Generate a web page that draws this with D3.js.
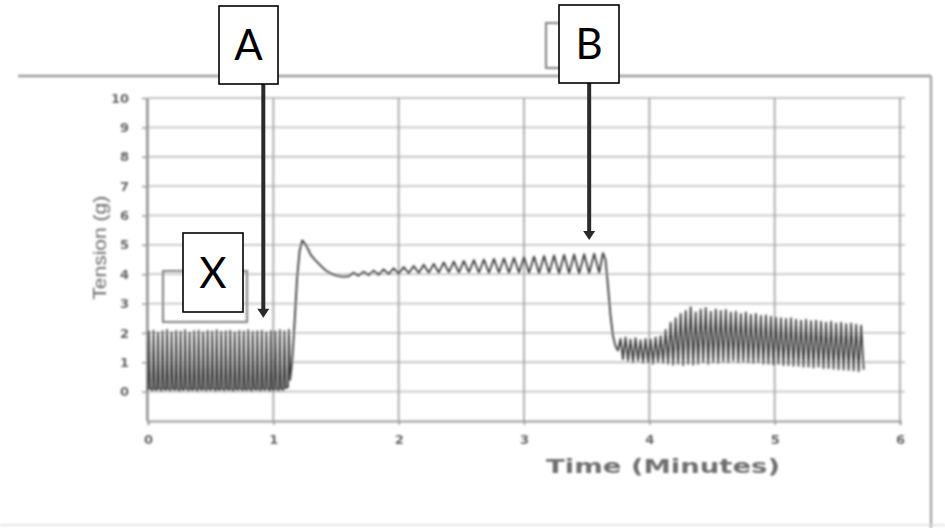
<!DOCTYPE html>
<html><head><meta charset="utf-8">
<script src="https://cdn.jsdelivr.net/npm/d3@7"></script>
<style>html,body{margin:0;padding:0;background:#fff;}svg{display:block;}</style>
</head><body>
<script>
// ---- data ----
const xTicks = [0, 1, 2, 3, 4, 5, 6];
const yTicks = [0, 1, 2, 3, 4, 5, 6, 7, 8, 9, 10];
const xTitle = "Time (Minutes)";
const yTitle = "Tension (g)";

// Phase 1: baseline twitches (0 - 1.15 min)
const time1 = [0.000,0.008,0.018,0.036,0.044,0.054,0.072,0.080,0.090,0.108,0.116,0.126,0.144,0.152,0.162,0.180,0.188,0.198,0.216,0.224,0.234,0.252,0.260,0.270,0.288,0.296,0.306,0.324,0.332,0.342,0.360,0.368,0.378,0.396,0.404,0.414,0.432,0.440,0.450,0.468,0.476,0.486,0.504,0.512,0.522,0.540,0.548,0.558,0.576,0.584,0.594,0.612,0.620,0.630,0.648,0.656,0.666,0.684,0.692,0.702,0.720,0.728,0.738,0.756,0.764,0.774,0.792,0.800,0.810,0.828,0.836,0.846,0.864,0.872,0.882,0.900,0.908,0.918,0.936,0.944,0.954,0.972,0.980,0.990,1.008,1.016,1.026,1.044,1.052,1.062,1.080,1.088,1.098,1.116,1.124,1.134];
const tension1 = [0.05,2.05,0.10,0.04,2.08,0.08,0.05,2.02,0.10,0.03,2.06,0.09,0.05,2.10,0.08,0.04,2.03,0.10,0.05,2.07,0.09,0.03,2.04,0.08,0.05,2.09,0.10,0.04,2.02,0.08,0.05,2.06,0.09,0.03,2.08,0.10,0.05,2.03,0.08,0.04,2.07,0.09,0.05,2.05,0.10,0.03,2.09,0.08,0.05,2.04,0.09,0.04,2.06,0.10,0.05,2.08,0.08,0.03,2.03,0.09,0.05,2.07,0.10,0.04,2.05,0.08,0.05,2.09,0.09,0.03,2.04,0.10,0.05,2.06,0.08,0.04,2.08,0.09,0.05,2.03,0.10,0.03,2.07,0.08,0.05,2.05,0.09,0.04,2.09,0.10,0.05,2.06,0.12,0.15,2.10,0.40];

// Phase 2: after A (1.15 - 3.75 min)
const time2 = [1.15,1.17,1.19,1.21,1.23,1.26,1.30,1.34,1.38,1.42,1.46,1.50,1.55,1.60,1.64,1.68,1.72,1.76,1.80,1.84,1.88,1.92,1.96,2.00,2.04,2.08,2.12,2.16,2.20,2.24,2.28,2.32,2.36,2.40,2.44,2.48,2.52,2.56,2.60,2.64,2.68,2.72,2.76,2.80,2.84,2.88,2.92,2.96,3.00,3.04,3.08,3.12,3.16,3.20,3.24,3.28,3.32,3.36,3.40,3.44,3.48,3.52,3.56,3.60,3.63,3.65,3.67,3.69,3.71,3.73];
const tension2 = [1.0,2.4,3.9,4.8,5.15,5.0,4.65,4.45,4.28,4.12,4.02,3.96,3.92,3.93,4.05,3.95,4.08,3.97,4.12,3.98,4.16,4.00,4.20,4.02,4.24,4.03,4.28,4.04,4.32,4.05,4.35,4.05,4.40,4.06,4.43,4.05,4.45,4.06,4.48,4.05,4.50,4.04,4.52,4.05,4.54,4.04,4.56,4.05,4.58,4.04,4.60,4.03,4.62,4.04,4.64,4.02,4.66,4.03,4.67,4.02,4.68,4.03,4.70,4.05,4.72,4.50,3.60,2.60,1.90,1.55];

// Phase 3: after B (3.75 - 5.71 min)
const time3 = [3.75,3.77,3.79,3.81,3.83,3.85,3.87,3.89,3.91,3.93,3.95,3.97,3.99,4.01,4.03,4.05,4.07,4.09,4.11,4.13,4.15,4.17,4.19,4.21,4.23,4.25,4.27,4.29,4.31,4.33,4.35,4.37,4.39,4.41,4.43,4.45,4.47,4.49,4.51,4.53,4.55,4.57,4.59,4.61,4.63,4.65,4.67,4.69,4.71,4.73,4.75,4.77,4.79,4.81,4.83,4.85,4.87,4.89,4.91,4.93,4.95,4.97,4.99,5.01,5.03,5.05,5.07,5.09,5.11,5.13,5.15,5.17,5.19,5.21,5.23,5.25,5.27,5.29,5.31,5.33,5.35,5.37,5.39,5.41,5.43,5.45,5.47,5.49,5.51,5.53,5.55,5.57,5.59,5.61,5.63,5.65,5.67,5.69,5.71];
const tension3 = [1.40,1.80,1.10,1.85,1.05,1.78,1.00,1.82,1.05,1.75,0.98,1.80,1.00,1.78,0.95,1.85,1.00,1.90,0.98,2.10,0.95,2.35,0.92,2.50,0.95,2.65,0.90,2.75,0.95,2.88,0.92,2.70,0.95,2.80,1.00,2.85,0.95,2.72,1.00,2.80,0.98,2.75,1.02,2.78,1.00,2.70,1.05,2.72,1.00,2.65,1.02,2.70,1.00,2.62,0.98,2.65,1.00,2.58,0.95,2.60,0.95,2.55,0.92,2.52,0.95,2.50,0.90,2.48,0.90,2.50,0.88,2.45,0.88,2.42,0.85,2.45,0.85,2.40,0.82,2.42,0.85,2.38,0.80,2.35,0.80,2.38,0.78,2.32,0.76,2.35,0.75,2.30,0.74,2.32,0.72,2.28,0.70,2.25,0.75];

// annotation labels
const labels = ["A", "B", "X"];

// ---- drawing ----
const W = 945, H = 528;
const svg = d3.select("body").append("svg").attr("width", W).attr("height", H);

const defs = svg.append("defs");
defs.append("filter").attr("id", "soft")
  .attr("x", -0.05).attr("y", -0.05).attr("width", 1.1).attr("height", 1.1)
  .append("feGaussianBlur").attr("stdDeviation", 0.8);

const x = d3.scaleLinear().domain([0, 6]).range([148, 900]);
const y = d3.scaleLinear().domain([-1, 10]).range([421, 98]);

const g = svg.append("g").attr("filter", "url(#soft)");

// outer frame lines (screenshot border)
g.append("line").attr("x1", 18).attr("x2", 931).attr("y1", 76).attr("y2", 76)
  .attr("stroke", "#999").attr("stroke-width", 2.5);
g.append("line").attr("x1", 931).attr("x2", 931).attr("y1", 76).attr("y2", 528)
  .attr("stroke", "#999").attr("stroke-width", 2);
g.append("line").attr("x1", 0).attr("x2", 945).attr("y1", 525).attr("y2", 525)
  .attr("stroke", "#ddd").attr("stroke-width", 1.5);

// horizontal grid
g.append("g").selectAll("line").data(yTicks).join("line")
  .attr("x1", x(0)).attr("x2", x(6) + 5)
  .attr("y1", d => y(d)).attr("y2", d => y(d))
  .attr("stroke", "#c4c4c4").attr("stroke-width", 1.8);
// vertical grid
g.append("g").selectAll("line").data(xTicks).join("line")
  .attr("x1", d => x(d)).attr("x2", d => x(d))
  .attr("y1", y(10)).attr("y2", y(-1))
  .attr("stroke", "#a8a8a8").attr("stroke-width", 1.8);

// axes
const xAxis = d3.axisBottom(x).tickValues(xTicks).tickSize(4).tickPadding(10).tickFormat(d3.format("d"));
const gx = g.append("g").attr("transform", `translate(0,${y(-1)})`).call(xAxis);
const yAxis = d3.axisLeft(y).tickValues(yTicks).tickSize(5).tickPadding(13).tickFormat(d3.format("d"));
const gy = g.append("g").attr("transform", `translate(${x(0) - 1},0)`).call(yAxis);
[gx, gy].forEach(a => {
  a.select(".domain").attr("stroke", "#999").attr("stroke-width", 2);
  a.selectAll(".tick line").attr("stroke", "#999").attr("stroke-width", 1.5);
  a.selectAll(".tick text").attr("fill", "#666").attr("font-family", "DejaVu Sans")
    .attr("font-weight", "bold").attr("font-size", 13);
});
gy.select(".domain").attr("d", `M0,${y(10)}V${y(-1)}`);

// titles
g.append("text").attr("x", 663).attr("y", 473).attr("text-anchor", "middle")
  .attr("font-family", "DejaVu Sans").attr("font-weight", "bold").attr("font-size", 20)
  .attr("textLength", 234).attr("lengthAdjust", "spacingAndGlyphs")
  .attr("fill", "#6e6e6e").text(xTitle);
g.append("text").attr("transform", `translate(106,${y(4.9)}) rotate(-90)`).attr("text-anchor", "middle")
  .attr("font-family", "Liberation Sans").attr("font-size", 19)
  .attr("textLength", 104).attr("lengthAdjust", "spacingAndGlyphs")
  .attr("fill", "#666").text(yTitle);

// trace
const line = d3.line().x(d => x(d[0])).y(d => y(d[1]));
const trace = [
  ...time1.map((t, i) => [t, tension1[i]]),
  ...time2.map((t, i) => [t, tension2[i]]),
  ...time3.map((t, i) => [t, tension3[i]])
];
g.append("path").datum(trace).attr("d", line)
  .attr("fill", "none").attr("stroke", "#3c3c3c").attr("stroke-width", 1.8)
  .attr("stroke-linejoin", "round");

// faint boxes behind labels (from original screenshot)
g.append("rect").attr("x", 163).attr("y", 271).attr("width", 84).attr("height", 51)
  .attr("fill", "none").attr("stroke", "#808080").attr("stroke-width", 2);
g.append("rect").attr("x", 546).attr("y", 23).attr("width", 40).attr("height", 45)
  .attr("fill", "none").attr("stroke", "#808080").attr("stroke-width", 2);

// ---- annotations (crisp) ----
const ann = svg.append("g");
function arrow(tx, yTop, tv) {
  const px = x(tx), py = y(tv);
  ann.append("line").attr("x1", px).attr("x2", px).attr("y1", yTop).attr("y2", py - 4)
    .attr("stroke", "#2a2a2a").attr("stroke-width", 4);
  ann.append("path").attr("d", `M${px - 6},${py - 8}L${px + 6},${py - 8}L${px},${py + 1}Z`)
    .attr("fill", "#2a2a2a");
}
arrow(0.92, 84, 2.55);
arrow(3.52, 83, 5.2);

function box(x0, y0, w, h, t) {
  ann.append("rect").attr("x", x0).attr("y", y0).attr("width", w).attr("height", h)
    .attr("fill", "#fff").attr("stroke", "#000").attr("stroke-width", 1.6);
  ann.append("text").attr("x", x0 + w / 2).attr("y", y0 + h / 2 + 15).attr("text-anchor", "middle")
    .attr("font-family", "Lato, Open Sans, sans-serif").attr("font-size", 42).attr("fill", "#000").text(t);
}
box(219, 6, 59, 78, labels[0]);
box(559, 5, 60, 78, labels[1]);
box(183, 233, 60, 79, labels[2]);
</script>
</body></html>
